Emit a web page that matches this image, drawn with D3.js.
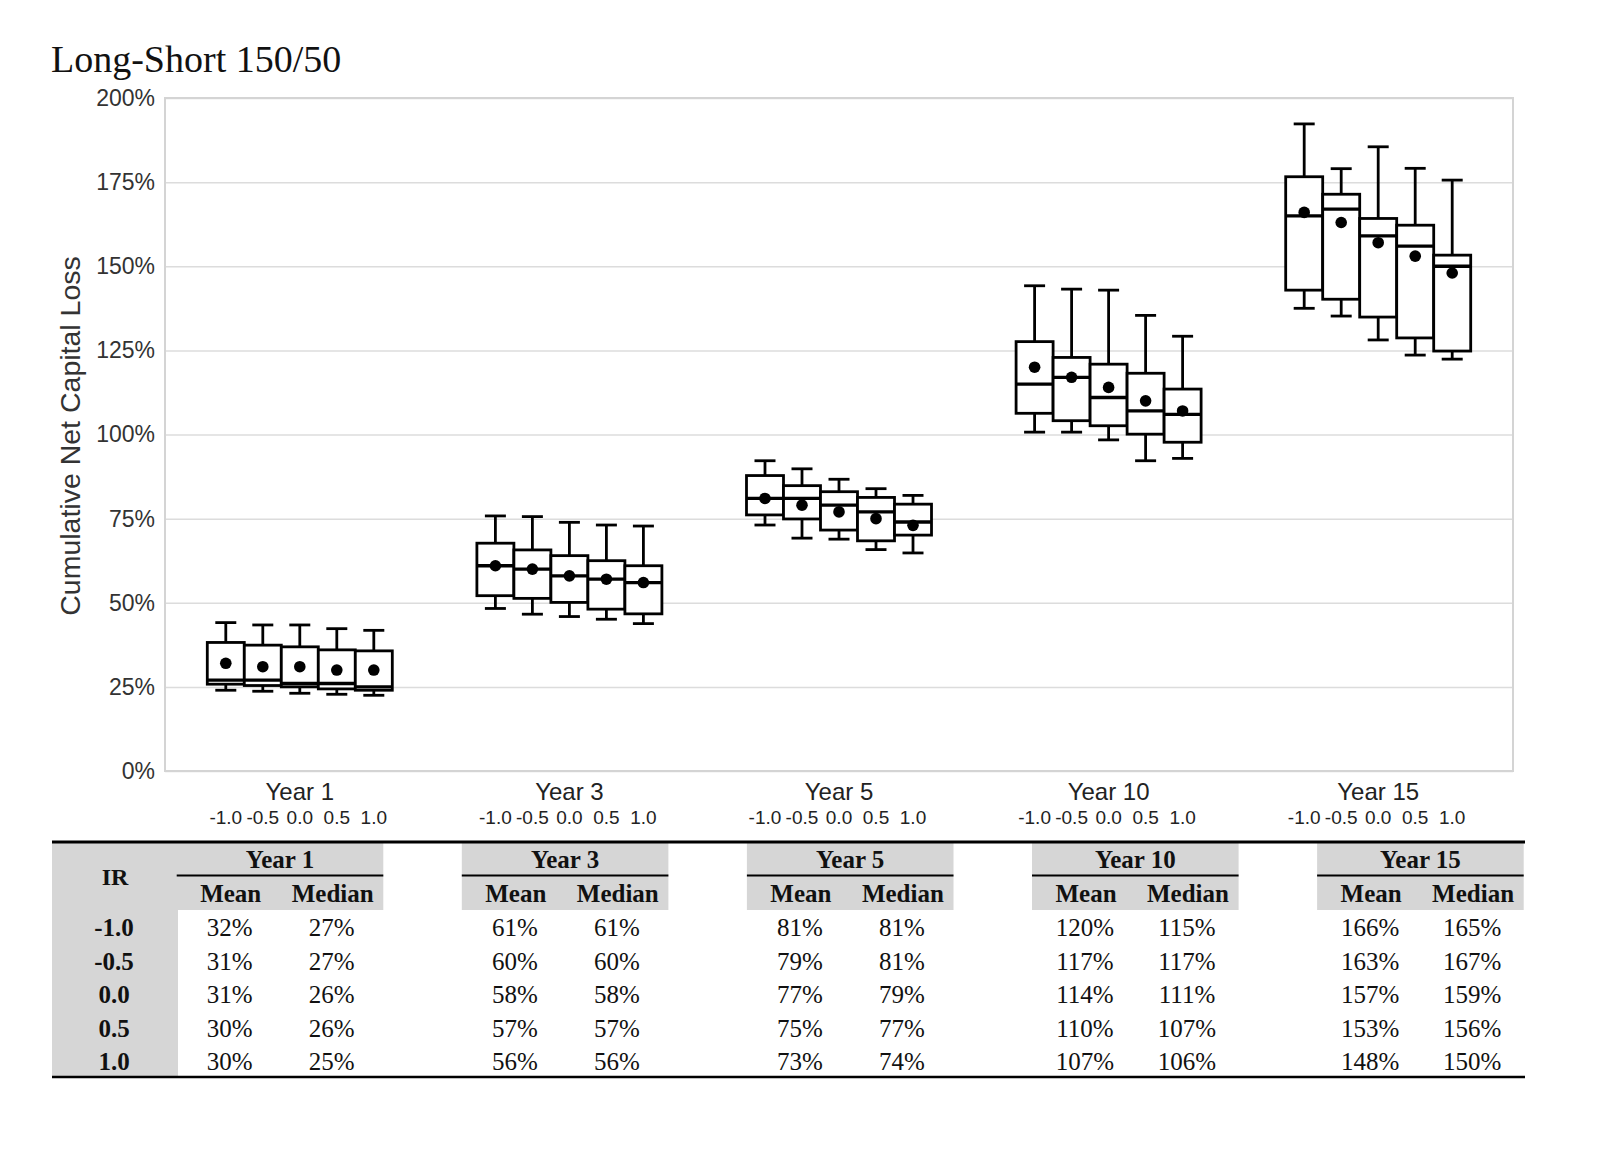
<!DOCTYPE html>
<html><head><meta charset="utf-8">
<script src="https://cdn.jsdelivr.net/npm/d3@7"></script>
<style>
html,body{margin:0;padding:0;background:#fff;}
svg{display:block;}
</style></head>
<body>
<svg id="chart" width="1600" height="1149"></svg>
<script>
// ---------- DATA ----------
const years = ["Year 1", "Year 3", "Year 5", "Year 10", "Year 15"];
const irLevels = ["-1.0", "-0.5", "0.0", "0.5", "1.0"];
const yTicks = [0, 25, 50, 75, 100, 125, 150, 175, 200];

const meanVals = [
  [32, 31, 31, 30, 30],
  [61, 60, 58, 57, 56],
  [81, 79, 77, 75, 73],
  [120, 117, 114, 110, 107],
  [166, 163, 157, 153, 148]
];
const medianVals = [
  [27, 27, 26, 26, 25],
  [61, 60, 58, 57, 56],
  [81, 81, 79, 77, 74],
  [115, 117, 111, 107, 106],
  [165, 167, 159, 156, 150]
];
const q3Vals = [
  [38.2, 37.4, 36.9, 36.0, 35.7],
  [67.7, 65.7, 64.0, 62.5, 61.0],
  [87.8, 84.8, 83.0, 81.3, 79.3],
  [127.6, 122.9, 120.9, 118.2, 113.5],
  [176.6, 171.4, 164.2, 162.2, 153.3]
];
const q1Vals = [
  [25.8, 25.4, 25.0, 24.4, 24.0],
  [52.1, 51.3, 50.1, 48.1, 46.7],
  [76.1, 74.9, 71.6, 68.4, 70.1],
  [106.3, 104.1, 102.6, 100.1, 97.7],
  [142.9, 140.2, 134.9, 128.7, 124.8]
];
const whiskerHigh = [
  [44.1, 43.4, 43.4, 42.3, 41.8],
  [75.8, 75.6, 73.9, 73.1, 72.8],
  [92.2, 89.8, 86.7, 83.9, 81.9],
  [144.2, 143.2, 142.9, 135.4, 129.2],
  [192.3, 179.0, 185.5, 179.1, 175.6]
];
const whiskerLow = [
  [24.0, 23.7, 23.1, 22.8, 22.5],
  [48.3, 46.6, 45.9, 45.1, 43.8],
  [73.1, 69.2, 68.9, 65.8, 64.8],
  [100.7, 100.7, 98.4, 92.2, 92.9],
  [137.5, 135.2, 128.1, 123.6, 122.4]
];

// ---------- LAYOUT ----------
const svg = d3.select("#chart");
const plot = {left: 165, right: 1513, top: 98, bottom: 771};
const sans = "'Liberation Sans', Arial, sans-serif";
const serif = "'Liberation Serif', 'Times New Roman', serif";

const x = d3.scaleBand().domain(years).range([plot.left, plot.right]).padding(0);
const xi = d3.scaleBand().domain(irLevels).range([0, x.bandwidth()]).paddingInner(0).paddingOuter(1.143);
const y = d3.scaleLinear().domain([0, 200]).range([plot.bottom, plot.top]);

// title
svg.append("text").attr("x", 51).attr("y", 72)
  .attr("font-family", serif).attr("font-size", 38).attr("fill", "#111")
  .text("Long-Short 150/50");

// gridlines
const grid = svg.append("g").attr("transform", `translate(${plot.left},0)`)
  .call(d3.axisLeft(y).tickValues(yTicks).tickSize(-(plot.right - plot.left)).tickFormat(""));
grid.select(".domain").remove();
grid.selectAll("line").attr("stroke", "#dcdcdc").attr("stroke-width", 1.5);

// frame
svg.append("rect").attr("x", plot.left).attr("y", plot.top)
  .attr("width", plot.right - plot.left).attr("height", plot.bottom - plot.top)
  .attr("fill", "none").attr("stroke", "#d4d4d4").attr("stroke-width", 2);

// y axis labels
const yAx = svg.append("g").attr("transform", `translate(${plot.left - 10},0)`)
  .call(d3.axisLeft(y).tickValues(yTicks).tickSize(0).tickPadding(0).tickFormat(d => d + "%"));
yAx.select(".domain").remove();
yAx.selectAll("text").attr("font-family", sans).attr("font-size", 23).attr("fill", "#333");

// y axis title
svg.append("text")
  .attr("transform", `translate(80,436) rotate(-90)`)
  .attr("text-anchor", "middle")
  .attr("font-family", sans).attr("font-size", 28.5).attr("fill", "#333")
  .text("Cumulative Net Capital Loss");

// x axis: year labels
const xAx = svg.append("g").attr("transform", `translate(0,${plot.bottom})`)
  .call(d3.axisBottom(x).tickSize(0).tickPadding(0));
xAx.select(".domain").remove();
xAx.selectAll("text").attr("font-family", sans).attr("font-size", 24).attr("fill", "#222")
  .attr("dy", null).attr("y", 29);

// sub axes: IR levels under each box
years.forEach((yr, gi) => {
  const g = svg.append("g").attr("transform", `translate(${x(yr)},${plot.bottom})`)
    .call(d3.axisBottom(xi).tickSize(0).tickPadding(0));
  g.select(".domain").remove();
  g.selectAll("text").attr("font-family", sans).attr("font-size", 19).attr("fill", "#222")
    .attr("dy", null).attr("y", 53);
});

// boxes
const boxes = [];
years.forEach((yr, gi) => {
  irLevels.forEach((ir, i) => {
    boxes.push({
      cx: x(yr) + xi(ir) + xi.bandwidth() / 2,
      x0: x(yr) + xi(ir),
      w: xi.bandwidth(),
      lo: whiskerLow[gi][i], q1: q1Vals[gi][i], med: medianVals[gi][i],
      q3: q3Vals[gi][i], hi: whiskerHigh[gi][i], mean: meanVals[gi][i]
    });
  });
});
const capW = 21;
const sw = 2.8;
const bg = svg.append("g");
const bx = bg.selectAll("g.box").data(boxes).join("g").attr("class", "box");
bx.append("line").attr("x1", d => d.cx).attr("x2", d => d.cx)
  .attr("y1", d => y(d.q3)).attr("y2", d => y(d.hi)).attr("stroke", "#000").attr("stroke-width", sw);
bx.append("line").attr("x1", d => d.cx).attr("x2", d => d.cx)
  .attr("y1", d => y(d.q1)).attr("y2", d => y(d.lo)).attr("stroke", "#000").attr("stroke-width", sw);
bx.append("line").attr("x1", d => d.cx - capW / 2).attr("x2", d => d.cx + capW / 2)
  .attr("y1", d => y(d.hi)).attr("y2", d => y(d.hi)).attr("stroke", "#000").attr("stroke-width", sw);
bx.append("line").attr("x1", d => d.cx - capW / 2).attr("x2", d => d.cx + capW / 2)
  .attr("y1", d => y(d.lo)).attr("y2", d => y(d.lo)).attr("stroke", "#000").attr("stroke-width", sw);
bx.append("rect").attr("x", d => d.x0).attr("width", d => d.w)
  .attr("y", d => y(d.q3)).attr("height", d => y(d.q1) - y(d.q3))
  .attr("fill", "#fff").attr("stroke", "#000").attr("stroke-width", sw);
bx.append("line").attr("x1", d => d.x0).attr("x2", d => d.x0 + d.w)
  .attr("y1", d => y(d.med)).attr("y2", d => y(d.med)).attr("stroke", "#000").attr("stroke-width", 3.3);
bx.append("circle").attr("cx", d => d.cx).attr("cy", d => y(d.mean)).attr("r", 5.8).attr("fill", "#000");

// ---------- TABLE ----------
const tbl = svg.append("g");
const tLeft = 52, tRight = 1525, tTop = 842, tBottom = 1077;
const hdrLefts = d3.scaleBand().domain(years).range([176.7, 176.7 + 285.1 * 5]);
const hdrW = 206.6;
const gray = "#d6d6d6";
const rowY = d3.scalePoint().domain(irLevels).range([927.5, 1061.5]);

// gray IR column
tbl.append("rect").attr("x", tLeft).attr("y", tTop).attr("width", 178 - tLeft).attr("height", tBottom - tTop).attr("fill", gray);
// year headers
years.forEach(yr => {
  const l = hdrLefts(yr);
  tbl.append("rect").attr("x", l).attr("y", tTop).attr("width", hdrW).attr("height", 910 - tTop).attr("fill", gray);
  tbl.append("line").attr("x1", l).attr("x2", l + hdrW).attr("y1", 875.5).attr("y2", 875.5)
    .attr("stroke", "#000").attr("stroke-width", 2);
  tbl.append("text").attr("x", l + hdrW / 2).attr("y", 868).attr("text-anchor", "middle")
    .attr("font-family", serif).attr("font-weight", "bold").attr("font-size", 25).attr("fill", "#111").text(yr);
  tbl.append("text").attr("x", l + 54).attr("y", 902).attr("text-anchor", "middle")
    .attr("font-family", serif).attr("font-weight", "bold").attr("font-size", 25).attr("fill", "#111").text("Mean");
  tbl.append("text").attr("x", l + 156).attr("y", 902).attr("text-anchor", "middle")
    .attr("font-family", serif).attr("font-weight", "bold").attr("font-size", 25).attr("fill", "#111").text("Median");
});
// IR header
tbl.append("text").attr("x", 115).attr("y", 885).attr("text-anchor", "middle")
  .attr("font-family", serif).attr("font-weight", "bold").attr("font-size", 24).attr("fill", "#111").text("IR");
// row labels + values
irLevels.forEach((ir, i) => {
  tbl.append("text").attr("x", 114).attr("y", rowY(ir) + 8.5).attr("text-anchor", "middle")
    .attr("font-family", serif).attr("font-weight", "bold").attr("font-size", 25).attr("fill", "#111").text(ir);
  years.forEach((yr, gi) => {
    const l = hdrLefts(yr);
    tbl.append("text").attr("x", l + 53).attr("y", rowY(ir) + 8.5).attr("text-anchor", "middle")
      .attr("font-family", serif).attr("font-size", 25).attr("fill", "#111").text(meanVals[gi][i] + "%");
    tbl.append("text").attr("x", l + 155).attr("y", rowY(ir) + 8.5).attr("text-anchor", "middle")
      .attr("font-family", serif).attr("font-size", 25).attr("fill", "#111").text(medianVals[gi][i] + "%");
  });
});
// rules
tbl.append("line").attr("x1", tLeft).attr("x2", tRight).attr("y1", tTop).attr("y2", tTop)
  .attr("stroke", "#000").attr("stroke-width", 3);
tbl.append("line").attr("x1", tLeft).attr("x2", tRight).attr("y1", tBottom).attr("y2", tBottom)
  .attr("stroke", "#000").attr("stroke-width", 2.5);
</script>
</body></html>
